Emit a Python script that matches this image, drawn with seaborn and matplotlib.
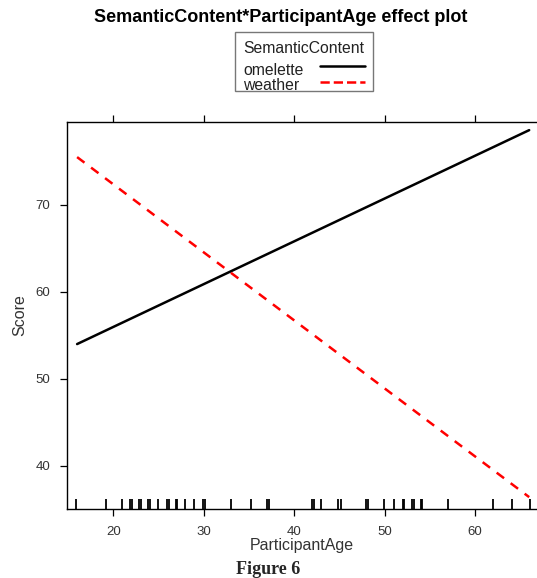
import matplotlib
matplotlib.use("Agg")
import matplotlib.pyplot as plt
from matplotlib.lines import Line2D
from matplotlib.patches import Rectangle
import numpy as np
import pandas as pd
import seaborn as sns

# Fitted effect lines (endpoints of the age range)
ages = [16, 66]
omelette_score = [54.0, 78.6]
weather_score = [75.5, 36.4]
groups = ["omelette", "weather"]

# Observed participant ages (rug)
rug_ages = [15.9, 19.2, 21.0, 21.8, 22.1, 22.9, 23.1, 23.8, 24.1, 25.0, 25.9, 26.2,
            26.9, 27.1, 27.9, 28.9, 29.9, 30.1, 33.0, 35.2, 37.0, 37.2, 42.0, 42.2,
            43.0, 44.9, 45.2, 47.9, 48.2, 49.9, 51.0, 52.0, 52.2, 53.0, 53.3, 54.0,
            54.2, 57.0, 62.0, 64.1, 66.1]

x_ticks = [20, 30, 40, 50, 60]
y_ticks = [40, 50, 60, 70]

sns.set_style("white")
plt.rcParams["font.family"] = ["Liberation Sans", "DejaVu Sans"]

df = pd.DataFrame({
    "ParticipantAge": ages * 2,
    "Score": omelette_score + weather_score,
    "SemanticContent": [groups[0]] * 2 + [groups[1]] * 2,
})

W, H = 537, 578
fig = plt.figure(figsize=(W / 100, H / 100), dpi=100)
ax = fig.add_axes([66.7 / W, 1 - 509.3 / H, (537.5 - 66.7) / W, (509.3 - 121.7) / H])

sns.lineplot(data=df, x="ParticipantAge", y="Score", hue="SemanticContent",
             style="SemanticContent", palette={"omelette": "black", "weather": "#ff0000"},
             dashes={"omelette": "", "weather": (3.7, 3.3)}, linewidth=1.8,
             legend=False, ax=ax)

sns.rugplot(x=rug_ages, height=0.026, color="black", linewidth=1.3, ax=ax)

ax.set_xlim(14.85, 66.92)
ax.set_ylim(35.0, 79.57)
ax.set_xticks(x_ticks)
ax.set_yticks(y_ticks)
for s in ax.spines.values():
    s.set_color("black")
    s.set_linewidth(1.0)
ax.tick_params(axis="both", which="both", direction="out", length=5, width=0.9,
               color="black", pad=7, labelsize=9.5, labelcolor="#333333",
               top=True, right=True, bottom=True, left=True,
               labeltop=False, labelright=False)
ax.set_xlabel("ParticipantAge", fontsize=11.5, color="#333333", labelpad=0)
ax.set_ylabel("Score", fontsize=11.5, color="#333333", labelpad=6)

fig.text(281 / W, 1 - 17 / H, "SemanticContent*ParticipantAge effect plot",
         ha="center", va="center", fontsize=13, fontweight="bold", color="black")


# Key above the panel: title centred, labels on the left, line samples on the right
def fx(px):
    return px / W


def fy(py):
    return 1 - py / H


fig.patches.append(Rectangle((fx(234.7), fy(90.7)), fx(373) - fx(234.7), fy(31.7) - fy(90.7),
                             transform=fig.transFigure, facecolor="white",
                             edgecolor="#777777", linewidth=1.0, zorder=5))
fig.text(fx(303.8), fy(53.3), "SemanticContent", ha="center", va="baseline",
         fontsize=11.3, color="#222222", zorder=6)
row_text_base = [75.0, 90.0]
row_line_y = [65.7, 82.3]
for line, label, tb, ly in zip(ax.lines[:2], groups, row_text_base, row_line_y):
    fig.text(fx(243.3), fy(tb), label, ha="left", va="baseline",
             fontsize=11.3, color="#222222", zorder=6)
    fig.lines.append(Line2D([fx(320), fx(365)], [fy(ly), fy(ly)], transform=fig.transFigure,
                            color=line.get_color(), linestyle=line.get_linestyle(),
                            linewidth=line.get_linewidth(), zorder=6))

fig.text(268 / W, 1 - 569 / H, "Figure 6", ha="center", va="center",
         fontsize=13, fontweight="bold", family=["Liberation Serif", "DejaVu Serif"])

fig.savefig("out.png", dpi=100)
